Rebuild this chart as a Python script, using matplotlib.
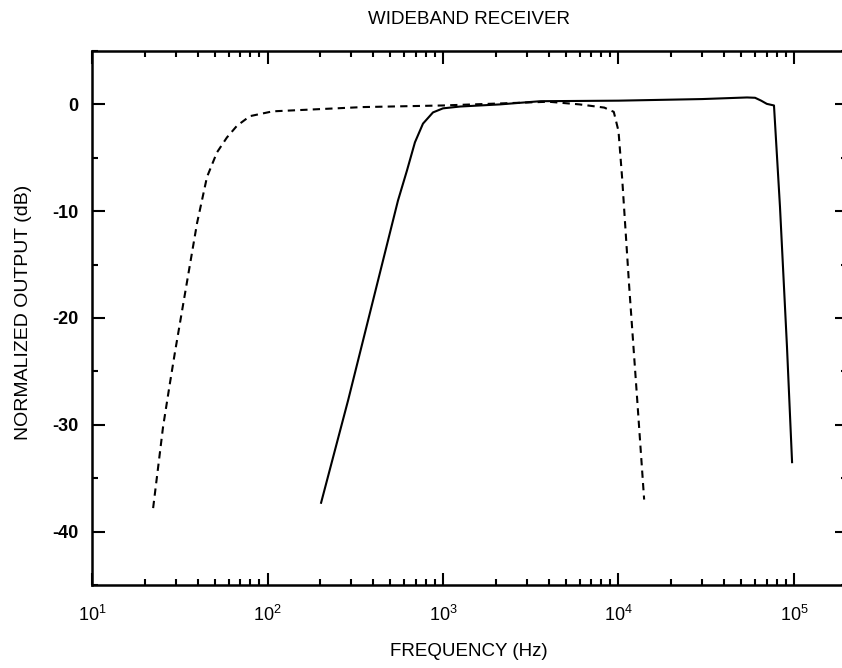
import numpy as np
import matplotlib
matplotlib.use("Agg")
from matplotlib import pyplot as plt
from matplotlib.ticker import LogLocator, MultipleLocator, FixedLocator

plt.rcParams['font.family'] = ['Liberation Sans', 'DejaVu Sans']
plt.rcParams['axes.unicode_minus'] = False

#%% data
solid_f = [202, 288, 554, 623, 692, 769, 877, 1000, 1250, 2110, 3000, 3600,
           10000, 30000, 54000, 60000, 65000, 70000, 76900, 83200, 91200, 97500]
solid_db = [-37.3, -27.7, -9.0, -6.2, -3.55, -1.8, -0.75, -0.37, -0.2, 0.0, 0.2, 0.3,
            0.35, 0.5, 0.65, 0.62, 0.35, 0.05, -0.1, -9.6, -22.7, -33.5]

dash_f = [22.3, 25.4, 27.8, 29.7, 39.7, 45.2, 51.5, 58.7, 67, 79.4, 107, 350,
          1000, 4000, 6000, 8300, 9400, 10000, 10500, 11500, 12700, 14000]
dash_db = [-37.8, -30.2, -26.1, -23.2, -11.1, -6.8, -4.5, -3.1, -2.0, -1.1, -0.65, -0.25,
           -0.1, 0.25, 0.0, -0.3, -0.7, -2.5, -7.0, -17.0, -27.0, -37.0]

y_ticks = [0, -10, -20, -30, -40]
x_ticks = [1e1, 1e2, 1e3, 1e4, 1e5]
x_labels = [r'$\mathregular{10^{1}}$', r'$\mathregular{10^{2}}$', r'$\mathregular{10^{3}}$',
            r'$\mathregular{10^{4}}$', r'$\mathregular{10^{5}}$']

#%% figure
fig = plt.figure(figsize=(8.42, 6.68), dpi=100)
W, H = 842., 668.
left, right, top, bottom = 92., 847., 51., 585.
ax = fig.add_axes([left/W, 1-bottom/H, (right-left)/W, (bottom-top)/H])

ax.plot(solid_f, solid_db, '-', color='black', lw=1.5)
ax.plot(dash_f, dash_db, '--', color='black', lw=1.5, dashes=(3.5, 2.5))

ax.set_xscale('log')
ax.set_xlim(10, 10**(1 + (right-left)/175.5))
ax.set_ylim(-45, 5)

ax.xaxis.set_major_locator(FixedLocator(x_ticks))
ax.set_xticklabels(x_labels)
ax.xaxis.set_minor_locator(LogLocator(base=10, subs=np.arange(2, 10), numticks=20))
ax.yaxis.set_major_locator(FixedLocator(y_ticks))
ax.yaxis.set_minor_locator(MultipleLocator(5))

for s in ax.spines.values():
    s.set_linewidth(1.8)
ax.tick_params(which='both', direction='in', top=True, right=True, width=1.5)
ax.tick_params(which='major', length=9, labelsize=13)
ax.tick_params(which='minor', length=4.5)
ax.tick_params(axis='x', which='major', pad=14)
ax.tick_params(axis='y', which='major', pad=10)
for lab in ax.get_yticklabels():
    lab.set_fontweight('bold')

fig.text(469/W, 1-20/H, 'WIDEBAND RECEIVER', ha='center', va='center', fontsize=13.5)
fig.text(469/W, 1-652/H, 'FREQUENCY (Hz)', ha='center', va='center', fontsize=13.5)
fig.text(24/W, 1-312/H, 'NORMALIZED OUTPUT (dB)', ha='center', va='center',
         fontsize=14, rotation=90)

fig.savefig('out.png', dpi=100)
